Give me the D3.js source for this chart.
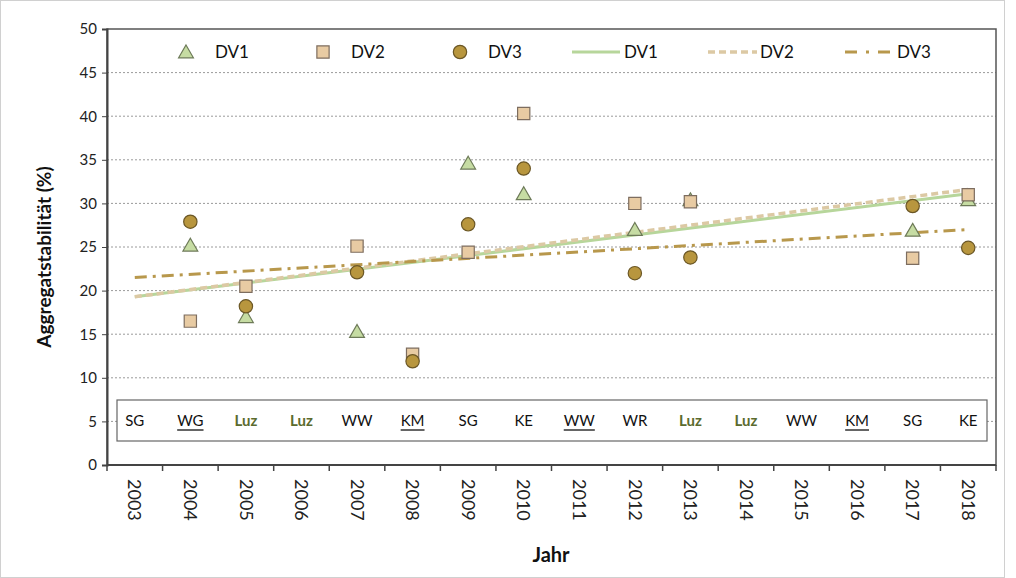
<!DOCTYPE html>
<html>
<head>
<meta charset="utf-8">
<script src="https://cdn.jsdelivr.net/npm/d3@7.9.0/dist/d3.min.js"></script>
<style>
  body { margin: 0; background: #fff; }
  svg { display: block; font-family: Lato, "Open Sans", sans-serif; }
</style>
</head>
<body>
<svg width="1016" height="578"></svg>
<script>
const years = ['2003','2004','2005','2006','2007','2008','2009','2010','2011','2012','2013','2014','2015','2016','2017','2018'];
const sites = ['SG','WG','Luz','Luz','WW','KM','SG','KE','WW','WR','Luz','Luz','WW','KM','SG','KE'];
const underlinedYears = ['2004','2008','2011','2016'];

// measured values per year (null = no value)
const dv1 = [null, 25.2, 17.0, null, 15.3, null, 34.6, 31.1, null, 27.0, 30.4, null, null, null, 26.9, 30.4];
const dv2 = [null, 16.5, 20.5, null, 25.1, 12.7, 24.4, 40.3, null, 30.0, 30.2, null, null, null, 23.7, 31.0];
const dv3 = [null, 27.9, 18.2, null, 22.1, 11.9, 27.6, 34.0, null, 22.0, 23.8, null, null, null, 29.7, 24.9];

// trend lines: value at first and last year
const trend1 = [19.3, 31.1];
const trend2 = [19.3, 31.6];
const trend3 = [21.5, 27.0];

const svg = d3.select('svg');
const W = 1016, H = 578;
const x = d3.scaleBand().domain(years).range([107, 996]);
const y = d3.scaleLinear().domain([0, 50]).range([465, 29]);
const xc = d => x(d) + x.bandwidth() / 2;

// outer frame
svg.append('rect').attr('x', 0.5).attr('y', 0.5).attr('width', W - 12).attr('height', H - 1)
  .attr('fill', 'none').attr('stroke', '#d0d0d0');

// gridlines
svg.append('g').selectAll('line').data(d3.range(5, 50, 5)).join('line')
  .attr('x1', 107).attr('x2', 996)
  .attr('y1', d => y(d)).attr('y2', d => y(d))
  .attr('stroke', '#9a9a9a').attr('stroke-width', 1).attr('stroke-dasharray', '2,2');

// plot frame
svg.append('rect').attr('x', 107).attr('y', y(50)).attr('width', 889).attr('height', y(0) - y(50))
  .attr('fill', 'none').attr('stroke', '#555').attr('stroke-width', 1.5);

// y axis
const yAxis = svg.append('g').attr('transform', 'translate(107,0)')
  .call(d3.axisLeft(y).tickValues(d3.range(0, 51, 5)).tickSize(5).tickPadding(5));
yAxis.select('.domain').attr('stroke', '#444').attr('stroke-width', 2);
yAxis.selectAll('.tick line').attr('stroke', '#444');
yAxis.selectAll('text').attr('font-size', 15).attr('fill', '#222').attr('font-family', 'Lato, sans-serif');

// x axis: ticks at band boundaries, labels at band centres
const xg = svg.append('g');
xg.append('line').attr('x1', 107).attr('x2', 996).attr('y1', y(0)).attr('y2', y(0))
  .attr('stroke', '#444').attr('stroke-width', 2);
xg.selectAll('.tk').data(years.concat(['end'])).join('line').attr('class', 'tk')
  .attr('x1', (d, i) => 107 + i * x.step()).attr('x2', (d, i) => 107 + i * x.step())
  .attr('y1', y(0)).attr('y2', y(0) + 6).attr('stroke', '#444').attr('stroke-width', 1.5);
xg.selectAll('.yl').data(years).join('text').attr('class', 'yl')
  .attr('transform', d => `translate(${xc(d)},479) rotate(90)`)
  .attr('dy', '0.35em').attr('font-size', 18).attr('fill', '#222').text(d => d);

// axis titles
svg.append('text').attr('transform', `translate(44,257) rotate(-90)`)
  .attr('text-anchor', 'middle').attr('dy', '0.35em').attr('font-size', 19).attr('font-weight', 'bold').attr('fill', '#111')
  .text('Aggregatstabilität (%)');
svg.append('text').attr('x', 551).attr('y', 562).attr('text-anchor', 'middle')
  .attr('font-size', 20).attr('font-weight', 'bold').attr('fill', '#111').text('Jahr');

// site label box
svg.append('rect').attr('x', 117).attr('y', 400).attr('width', 870).attr('height', 41)
  .attr('fill', '#fff').attr('stroke', '#666').attr('stroke-width', 1.2);
const sg = svg.append('g');
sites.forEach((s, i) => {
  const cx = xc(years[i]);
  const t = sg.append('text').attr('x', cx).attr('y', 421).attr('dy', '0.35em')
    .attr('text-anchor', 'middle').attr('font-size', 15)
    .attr('fill', s === 'Luz' ? '#5b6b2e' : '#111')
    .attr('font-weight', s === 'Luz' ? 'bold' : 'normal')
    .text(s);
  if (underlinedYears.includes(years[i])) {
    const w = t.node().getComputedTextLength();
    sg.append('line').attr('x1', cx - w / 2).attr('x2', cx + w / 2)
      .attr('y1', 430).attr('y2', 430).attr('stroke', '#111').attr('stroke-width', 1.3);
  }
});

// trend lines
const trendLine = (t, color, width, dash) => svg.append('line')
  .attr('x1', xc(years[0])).attr('y1', y(t[0]))
  .attr('x2', xc(years[years.length - 1])).attr('y2', y(t[1]))
  .attr('stroke', color).attr('stroke-width', width).attr('stroke-dasharray', dash);
trendLine(trend1, '#b7d69b', 3, null);
trendLine(trend2, '#dcc9a4', 3.5, '7,4');
trendLine(trend3, '#b8984c', 3, '12,6,3,6');

// markers
const tri = d3.symbol().type(d3.symbolTriangle).size(95);
const sq = d3.symbol().type(d3.symbolSquare).size(150);
const circ = d3.symbol().type(d3.symbolCircle).size(140);
const series = [
  { vals: dv1, sym: tri, fill: '#c6dca3', stroke: '#6d7a58', dy: 1.5 },
  { vals: dv2, sym: sq, fill: '#e8cba3', stroke: '#7d6d5f', dy: 0 },
  { vals: dv3, sym: circ, fill: '#b8963e', stroke: '#6b5726', dy: 0 }
];
series.forEach(s => {
  svg.append('g').selectAll('path')
    .data(s.vals.map((v, i) => ({ v, yr: years[i] })).filter(d => d.v !== null))
    .join('path')
    .attr('d', s.sym)
    .attr('transform', d => `translate(${xc(d.yr)},${y(d.v) + s.dy})`)
    .attr('fill', s.fill).attr('stroke', s.stroke).attr('stroke-width', 1.2);
});

// legend
const lg = svg.append('g');
const legY = 52;
lg.append('path').attr('d', tri).attr('transform', `translate(186,${legY + 1.5})`)
  .attr('fill', series[0].fill).attr('stroke', series[0].stroke).attr('stroke-width', 1.2);
lg.append('path').attr('d', sq).attr('transform', `translate(323,${legY})`)
  .attr('fill', series[1].fill).attr('stroke', series[1].stroke).attr('stroke-width', 1.2);
lg.append('path').attr('d', circ).attr('transform', `translate(460,${legY})`)
  .attr('fill', series[2].fill).attr('stroke', series[2].stroke).attr('stroke-width', 1.2);
lg.append('line').attr('x1', 572).attr('x2', 620).attr('y1', legY).attr('y2', legY)
  .attr('stroke', '#b7d69b').attr('stroke-width', 3);
lg.append('line').attr('x1', 708).attr('x2', 757).attr('y1', legY).attr('y2', legY)
  .attr('stroke', '#dcc9a4').attr('stroke-width', 3.5).attr('stroke-dasharray', '7,4');
lg.append('line').attr('x1', 845).attr('x2', 893).attr('y1', legY).attr('y2', legY)
  .attr('stroke', '#b8984c').attr('stroke-width', 3).attr('stroke-dasharray', '12,9,3,9');
[['DV1', 215], ['DV2', 351], ['DV3', 488], ['DV1', 624], ['DV2', 760], ['DV3', 897]].forEach(([t, lx]) => {
  lg.append('text').attr('x', lx).attr('y', legY).attr('dy', '0.35em')
    .attr('font-size', 17).attr('fill', '#111').text(t);
});
</script>
</body>
</html>
